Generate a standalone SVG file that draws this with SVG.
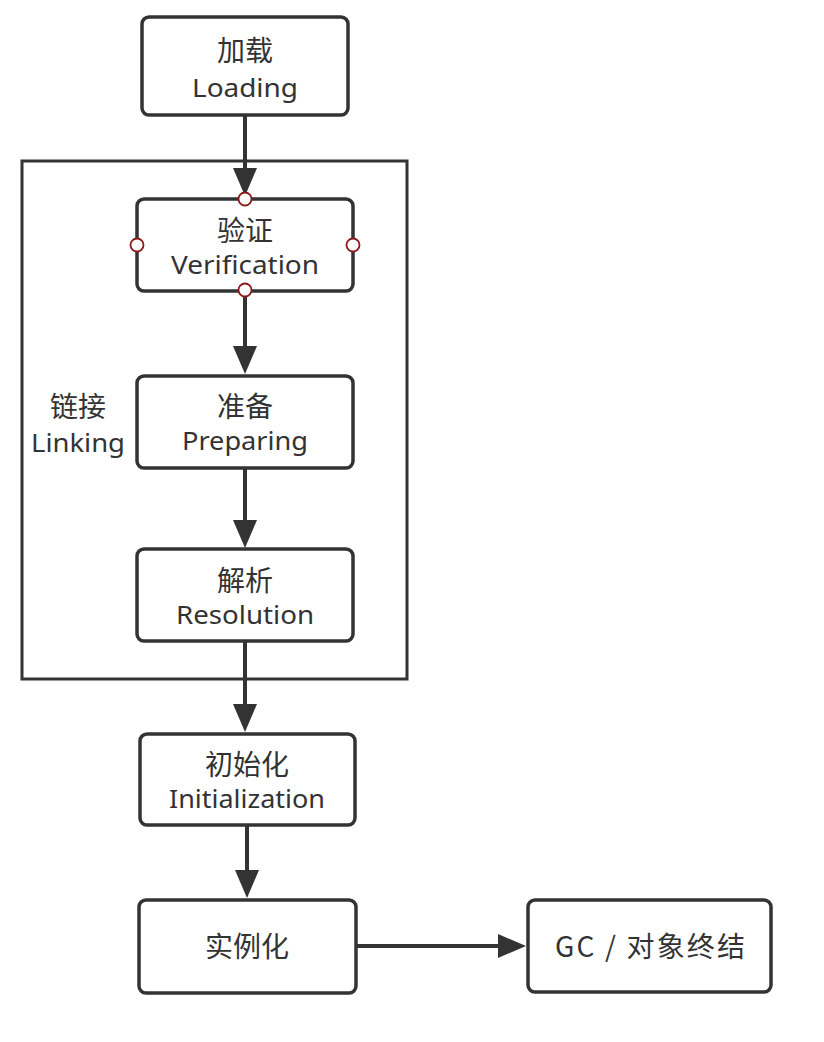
<svg xmlns="http://www.w3.org/2000/svg" width="824" height="1042" viewBox="0 0 824 1042">
<style>
.box{fill:#fff;stroke:#333;stroke-width:3.5}
.frame{fill:none;stroke:#333;stroke-width:3}
.t{font-family:"Noto Sans","Noto Sans CJK SC",sans-serif;font-size:25px;fill:#333;text-anchor:middle}
.c{font-family:"Noto Sans CJK SC",sans-serif;font-size:28px;fill:#333;text-anchor:middle}
.edge{fill:none;stroke:#333;stroke-width:4}
.port{fill:#fff;stroke:#8b1a1a;stroke-width:1.8}
</style>
<rect width="824" height="1042" fill="#fff"/>
<g id="linking">
<rect class="frame" x="22" y="161" width="385" height="518"/>
<text class="c" x="78" y="417">链接</text>
<text class="t" x="78" y="452" textLength="94" lengthAdjust="spacingAndGlyphs">Linking</text>
</g>
<g id="edges">
<path class="edge" d="M245,115 V168"/>
<path d="M233,168 L245,196 L257,168 Z" fill="#333"/>
<path class="edge" d="M245,291 V346"/>
<path d="M233,346 L245,374 L257,346 Z" fill="#333"/>
<path class="edge" d="M245,468 V520"/>
<path d="M233,520 L245,548 L257,520 Z" fill="#333"/>
<path class="edge" d="M245,642 V704"/>
<path d="M233,704 L245,732 L257,704 Z" fill="#333"/>
<path class="edge" d="M247,825 V870"/>
<path d="M235,870 L247,898 L259,870 Z" fill="#333"/>
<path class="edge" d="M356,946 H498"/>
<path d="M498,934 L526,946 L498,958 Z" fill="#333"/>
</g>
<g id="loading">
<rect class="box" x="142" y="17" width="206" height="98" rx="7"/>
<text class="c" x="245" y="61">加载</text>
<text class="t" x="245" y="97" textLength="106" lengthAdjust="spacingAndGlyphs">Loading</text>
</g>
<g id="verification">
<rect class="box" x="137" y="199" width="216" height="92" rx="7"/>
<text class="c" x="245" y="241">验证</text>
<text class="t" x="245" y="274" textLength="148" lengthAdjust="spacingAndGlyphs">Verification</text>
<circle class="port" cx="245" cy="199" r="6.5"/>
<circle class="port" cx="137" cy="245" r="6.5"/>
<circle class="port" cx="353" cy="245" r="6.5"/>
<circle class="port" cx="245" cy="290" r="6.5"/>
</g>
<g id="preparing">
<rect class="box" x="137" y="376" width="216" height="92" rx="7"/>
<text class="c" x="245" y="417">准备</text>
<text class="t" x="245" y="450" textLength="126" lengthAdjust="spacingAndGlyphs">Preparing</text>
</g>
<g id="resolution">
<rect class="box" x="137" y="549" width="216" height="92" rx="7"/>
<text class="c" x="245" y="591">解析</text>
<text class="t" x="245" y="624" textLength="138" lengthAdjust="spacingAndGlyphs">Resolution</text>
</g>
<g id="initialization">
<rect class="box" x="140" y="734" width="215" height="91" rx="7"/>
<text class="c" x="247" y="775">初始化</text>
<text class="t" x="247" y="808" textLength="156" lengthAdjust="spacingAndGlyphs">Initialization</text>
</g>
<g id="instantiation">
<rect class="box" x="139" y="900" width="217" height="93" rx="7"/>
<text class="c" x="247" y="957">实例化</text>
</g>
<g id="gc">
<rect class="box" x="528" y="900" width="243" height="92" rx="7"/>
<text class="c" x="650" y="957" textLength="190" lengthAdjust="spacing">GC / 对象终结</text>
</g>
</svg>
